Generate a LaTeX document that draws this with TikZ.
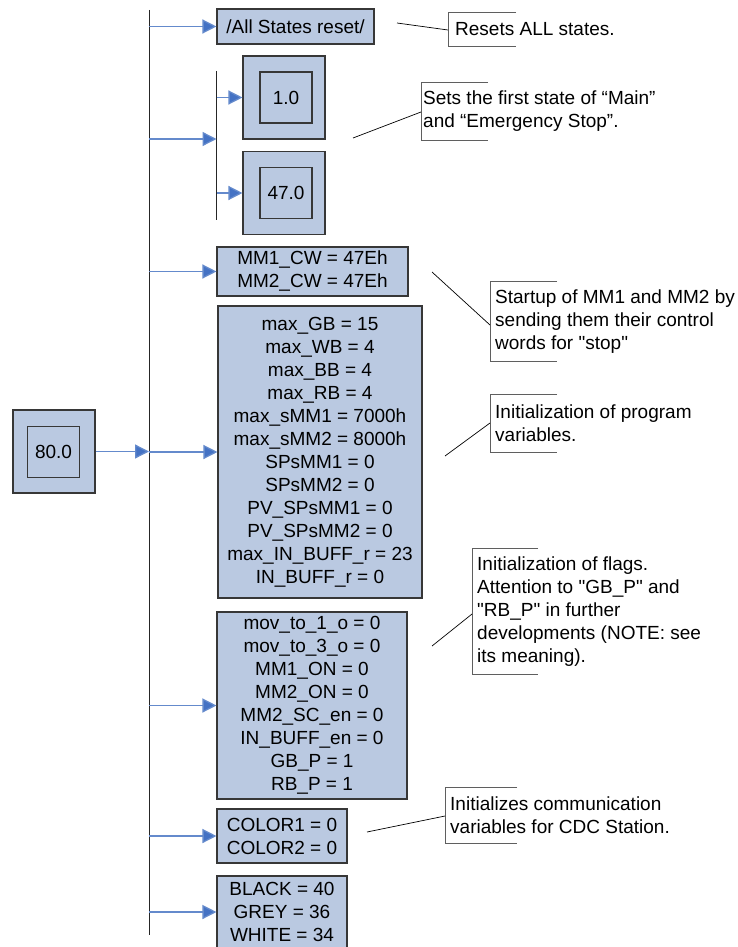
\documentclass[tikz,border=0pt]{standalone}
\usepackage{fontspec}
\setmainfont{Liberation Sans}
\usetikzlibrary{arrows.meta}

\definecolor{boxfill}{RGB}{186,201,225}
\definecolor{boxline}{RGB}{55,55,55}
\definecolor{flowblue}{RGB}{68,114,196}
\definecolor{flowline}{RGB}{100,138,204}
\definecolor{notegray}{RGB}{95,95,95}

\begin{document}
\begin{tikzpicture}[x=1pt,y=-1pt,
  font=\fontsize{19}{23}\selectfont,
  varbox/.style={draw=boxline, line width=1.1pt, fill=boxfill, align=center, inner sep=0pt},
  stateouter/.style={draw=boxline, line width=1.1pt, fill=boxfill, minimum width=82pt, minimum height=83pt, inner sep=0pt},
  stateinner/.style={draw=boxline, line width=1.1pt, fill=boxfill, minimum width=52pt, minimum height=51pt, inner sep=0pt},
  busline/.style={draw=black!85, line width=1pt},
  flow/.style={draw=flowline, line width=1.3pt, -{Triangle[length=14pt,width=14pt,fill=flowblue]}},
  note/.style={anchor=west, align=left, inner xsep=5pt, inner ysep=0pt},
  bracket/.style={draw=notegray, line width=1pt},
  leader/.style={draw=black, line width=0.7pt}
]
\useasboundingbox (0,0) rectangle (738,947);

% main bus and the sub-bus feeding the two initial states
\coordinate (busT) at (149,10);
\coordinate (busB) at (149,935);
\draw[busline] (busT) -- (busB);
\coordinate (subT) at (216.5,71);
\coordinate (subB) at (216.5,220);
\coordinate (subJ) at (216.5,139);
\draw[busline] (subT) -- (subB);

% entry state
\node[stateouter] (s80o) at (54,451.5) {};
\node[stateinner] (s80) at (53.5,452) {80.0};

% action boxes
\node[varbox, minimum width=157pt, minimum height=35pt] (reset) at (295.5,26.5) {/All States reset/};
\node[stateouter] (s1o) at (284,97.5) {};
\node[stateinner] (s1) at (286,97.5) {1.0};
\node[stateouter] (s47o) at (284,193) {};
\node[stateinner] (s47) at (286,193) {47.0};
\node[varbox, minimum width=191pt, minimum height=49pt] (cw) at (312.5,271.5)
  {MM1\_CW = 47Eh\\MM2\_CW = 47Eh};
\node[varbox, minimum width=204pt, minimum height=292pt] (vars) at (320,452)
  {max\_GB = 15\\max\_WB = 4\\max\_BB = 4\\max\_RB = 4\\max\_sMM1 = 7000h\\max\_sMM2 = 8000h\\SPsMM1 = 0\\SPsMM2 = 0\\PV\_SPsMM1 = 0\\PV\_SPsMM2 = 0\\max\_IN\_BUFF\_r = 23\\IN\_BUFF\_r = 0};
\node[varbox, minimum width=190pt, minimum height=187pt] (flags) at (312,705.5)
  {mov\_to\_1\_o = 0\\mov\_to\_3\_o = 0\\MM1\_ON = 0\\MM2\_ON = 0\\MM2\_SC\_en = 0\\IN\_BUFF\_en = 0\\GB\_P = 1\\RB\_P = 1};
\node[varbox, minimum width=130pt, minimum height=54pt] (colors) at (282,836)
  {COLOR1 = 0\\COLOR2 = 0};
\node[varbox, minimum width=130pt, minimum height=72pt] (consts) at (282,912)
  {BLACK = 40\\GREY = 36\\WHITE = 34};

% connectors
\draw[flow] (s80o.east) -- (busT |- s80o.east);
\draw[flow] (busT |- reset.west) -- (reset.west);
\draw[flow] (busT |- subJ) -- (subJ);
\draw[flow] (subT |- s1o.west) -- (s1o.west);
\draw[flow] (subT |- s47o.west) -- (s47o.west);
\draw[flow] (busT |- cw.west) -- (cw.west);
\draw[flow] (busT |- vars.west) -- (vars.west);
\draw[flow] (busT |- flags.west) -- (flags.west);
\draw[flow] (busT |- colors.west) -- (colors.west);
\draw[flow] (busT |- consts.west) -- (consts.west);

% comments
\node[note, inner xsep=7pt, minimum height=33pt] (n1) at (448,29.5) {Resets ALL states.};
\node[note, inner xsep=2pt, minimum height=57pt] (n2) at (421,111.5)
  {Sets the first state of “Main”\\and “Emergency Stop”.};
\node[note, minimum height=79pt] (n3) at (490,321.5)
  {Startup of MM1 and MM2 by\\sending them their control\\words for \textquotedbl stop\textquotedbl};
\node[note, minimum height=57pt] (n4) at (490,423.5)
  {Initialization of program\\variables.};
\node[note, minimum height=125pt] (n5) at (472,611.5)
  {Initialization of flags.\\Attention to \textquotedbl GB\_P\textquotedbl\ and\\\textquotedbl RB\_P\textquotedbl\ in further\\developments (NOTE: see\\its meaning).};
\node[note, minimum height=55pt] (n6) at (445,815.5)
  {Initializes communication\\variables for CDC Station.};

\foreach \n/\arm in {n1/68,n2/67,n3/67,n4/67,n5/66,n6/72}{
  \draw[bracket] ([xshift=\arm pt]\n.north west) -- (\n.north west)
    -- (\n.south west) -- ([xshift=\arm pt]\n.south west);
}

% leader lines
\coordinate (l1) at (397,23);
\coordinate (l2) at (353,138);
\coordinate (l3) at (432,272);
\coordinate (l4) at (445,456);
\coordinate (l5) at (432,646);
\coordinate (l6) at (367,832);
\draw[leader] (l1) -- ([yshift=-0.5pt]n1.west);
\draw[leader] (l2) -- ([yshift=-0.5pt]n2.west);
\draw[leader] (l3) -- ([yshift=-3.5pt]n3.west);
\draw[leader] (l4) -- ([yshift=0.5pt]n4.west);
\draw[leader] (l5) -- ([yshift=-2.5pt]n5.west);
\draw[leader] (l6) -- ([yshift=-0.5pt]n6.west);
\end{tikzpicture}
\end{document}
